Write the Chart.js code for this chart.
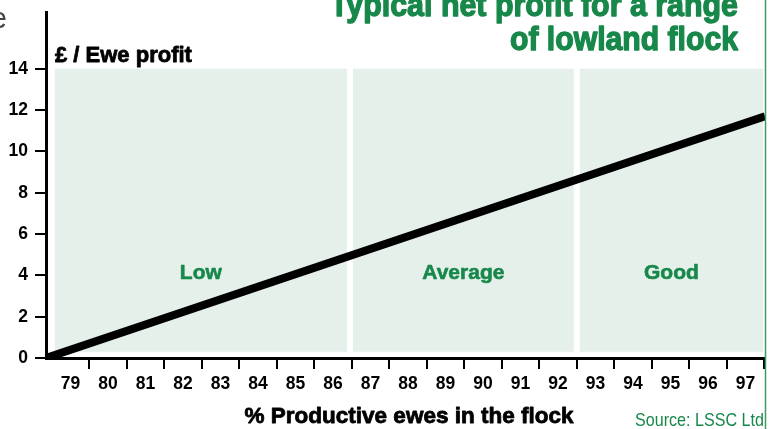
<!DOCTYPE html>
<html>
<head>
<meta charset="utf-8">
<script src="https://cdn.jsdelivr.net/npm/chart.js@4.4.1/dist/chart.umd.min.js"></script>
<style>
  html, body { margin: 0; padding: 0; background: #fff; }
  #wrap { width: 773px; height: 429px; position: relative; }
</style>
</head>
<body>
<div id="wrap"><canvas id="chart"></canvas></div>
<script>
// values
const xLabels = [79, 80, 81, 82, 83, 84, 85, 86, 87, 88, 89, 90, 91, 92, 93, 94, 95, 96, 97];
const yTicks = [0, 2, 4, 6, 8, 10, 12, 14];
const productivePct = [78.35, 97.52];
const profit = [0, 11.7];
const zoneNames = ['Low', 'Average', 'Good'];
const zoneFrom = [78.5, 86.45, 92.5];
const zoneTo = [86.45, 92.5, 97.55];

const green = '#17884a';
const FONT = "'Liberation Sans', Arial, sans-serif";

// heavier look for the bold headline type
function heavyText(ctx, text, x, y, maxW, w) {
  ctx.lineWidth = w;
  ctx.lineJoin = 'round';
  ctx.strokeStyle = ctx.fillStyle;
  if (maxW) {
    ctx.strokeText(text, x, y, maxW);
    ctx.fillText(text, x, y, maxW);
  } else {
    ctx.strokeText(text, x, y);
    ctx.fillText(text, x, y);
  }
}

const extras = {
  id: 'extras',
  beforeDatasetsDraw(chart) {
    const ctx = chart.ctx, x = chart.scales.x, y = chart.scales.y;
    ctx.save();
    // shaded zones
    ctx.fillStyle = '#e6f0eb';
    zoneNames.forEach((name, i) => {
      const l = x.getPixelForValue(zoneFrom[i]) + 3;
      const r = x.getPixelForValue(zoneTo[i]) - 3;
      const t = y.getPixelForValue(14);
      const b = y.getPixelForValue(0.3);
      ctx.fillRect(l, t, r - l, b - t);
    });
    ctx.fillStyle = green;
    ctx.font = 'bold 21px ' + FONT;
    ctx.textAlign = 'center';
    ctx.textBaseline = 'alphabetic';
    zoneNames.forEach((name, i) => {
      const l = x.getPixelForValue(zoneFrom[i]) + 3;
      const r = x.getPixelForValue(zoneTo[i]) - 3;
      heavyText(ctx, name, (l + r) / 2, y.getPixelForValue(4.2) + 8, 0, 0.6);
    });
    ctx.restore();
  },
  afterDraw(chart) {
    const ctx = chart.ctx, x = chart.scales.x, area = chart.chartArea;
    ctx.save();
    // x tick marks sit between the labels
    ctx.strokeStyle = '#000';
    ctx.lineWidth = 2;
    xLabels.forEach(v => {
      const px = Math.round(x.getPixelForValue(v + 0.5));
      ctx.beginPath();
      ctx.moveTo(px, area.bottom);
      ctx.lineTo(px, area.bottom + 11);
      ctx.stroke();
    });

    // title
    ctx.fillStyle = green;
    ctx.font = 'bold 34px ' + FONT;
    ctx.textAlign = 'right';
    heavyText(ctx, 'Typical net profit for a range', 738, 16, 408, 1.4);
    heavyText(ctx, 'of lowland flock', 738, 50, 228, 1.4);

    // y axis title
    ctx.fillStyle = '#000';
    ctx.font = 'bold 22px ' + FONT;
    ctx.textAlign = 'left';
    heavyText(ctx, '£ / Ewe profit', 55, 62, 138, 0.8);

    // x axis title
    ctx.textAlign = 'center';
    ctx.font = 'bold 22.5px ' + FONT;
    heavyText(ctx, '% Productive ewes in the flock', 409, 423, 0, 0.8);

    // source
    ctx.fillStyle = green;
    ctx.font = '19px ' + FONT;
    ctx.textAlign = 'right';
    ctx.fillText('Source: LSSC Ltd', 764, 426, 129);

    // stray letter from neighbouring text
    ctx.fillStyle = '#444';
    ctx.font = '29px ' + FONT;
    ctx.fillText('e', 7, 28);

    // green frame edge on the right
    ctx.strokeStyle = '#3c9a62';
    ctx.lineWidth = 1.5;
    ctx.beginPath();
    ctx.moveTo(765.5, 0);
    ctx.lineTo(765.5, 429);
    ctx.stroke();
    ctx.restore();
  }
};

new Chart(document.getElementById('chart'), {
  type: 'line',
  data: {
    datasets: [{
      data: productivePct.map((p, i) => ({ x: p, y: profit[i] })),
      borderColor: '#000',
      borderWidth: 8,
      pointRadius: 0,
      tension: 0
    }]
  },
  options: {
    responsive: true,
    maintainAspectRatio: false,
    animation: false,
    devicePixelRatio: 1,
    layout: { padding: { top: 12, right: 8, left: 0, bottom: 0 } },
    plugins: { legend: { display: false }, tooltip: { enabled: false } },
    scales: {
      x: {
        type: 'linear',
        min: 78.345,
        max: 97.52,
        afterBuildTicks: s => { s.ticks = xLabels.map(v => ({ value: v })); },
        afterFit: s => { s.height = 71; s.paddingLeft = 0; s.paddingRight = 0; },
        grid: { display: false, drawTicks: false },
        border: { color: '#000', width: 3 },
        ticks: {
          autoSkip: false,
          maxRotation: 0,
          padding: 16,
          color: '#000',
          font: { family: FONT, size: 17.5, weight: 'bold' },
          callback: v => String(v)
        }
      },
      y: {
        min: 0,
        max: 16.75,
        afterBuildTicks: s => { s.ticks = yTicks.map(v => ({ value: v })); },
        afterFit: s => { s.width = 46; s.paddingTop = 0; s.paddingBottom = 0; },
        grid: { drawOnChartArea: false, tickLength: 11, color: '#000', lineWidth: 2 },
        border: { color: '#000', width: 3 },
        ticks: {
          padding: 7,
          color: '#000',
          font: { family: FONT, size: 17.5, weight: 'bold' }
        }
      }
    }
  },
  plugins: [extras]
});
</script>
</body>
</html>
